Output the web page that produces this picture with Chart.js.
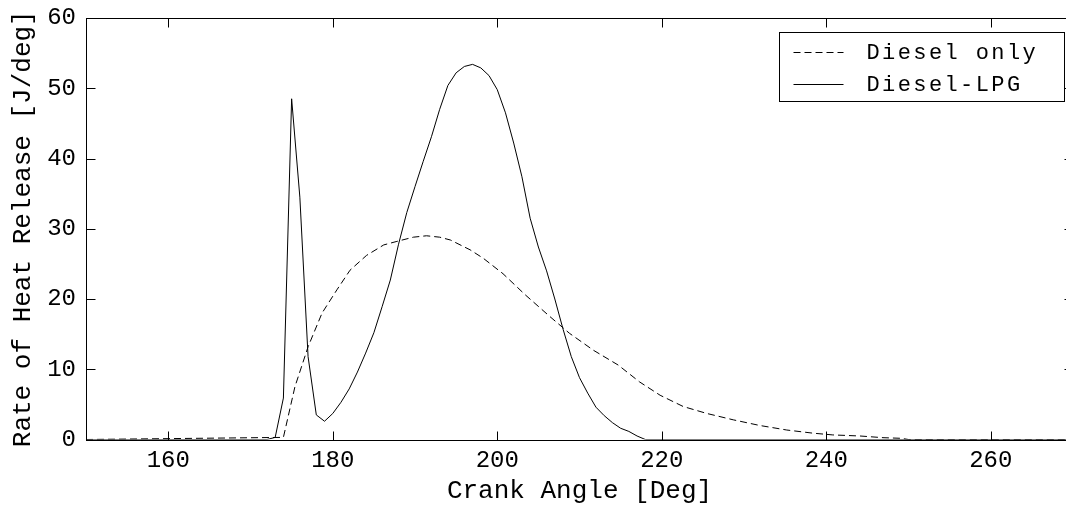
<html>
<head>
    <title>Rate of Heat Release</title>
    <meta charset="utf-8" />
    <script src="https://cdn.jsdelivr.net/npm/chart.js"></script>
    <style>
        body { margin: 0; overflow: hidden; background: #fff; }
        .chart-box { position: absolute; left: 0; top: 0; width: 1080px; height: 507px; }
    </style>
</head>
<body>
<div class="chart-box"><canvas id="chart"></canvas></div>

<script>
// crank angle [Deg] and rate of heat release [J/deg]
const lpgAngle = [150, 172, 173, 174, 175, 176, 177, 178, 179, 180, 181, 182, 183, 184, 185, 186, 187, 188, 189, 190,
                  191, 192, 193, 194, 195, 196, 197, 198, 199, 200, 201, 202, 203, 204, 205, 206, 207, 208, 209, 210,
                  211, 212, 213, 214, 215, 216, 217, 218, 270];
const lpgHeat = [0, 0, 0.3, 5.9, 48.5, 34.5, 11.8, 3.5, 2.6, 3.7, 5.3, 7.2, 9.6, 12.3, 15.2, 18.9, 22.7, 27.8, 32.3, 36.0,
                 39.6, 43.1, 47.0, 50.4, 52.2, 53.1, 53.4, 52.9, 51.8, 49.8, 46.5, 42.2, 37.4, 31.5, 27.4, 24.0, 20.0, 15.7, 11.8, 8.8,
                 6.6, 4.6, 3.4, 2.4, 1.6, 1.15, 0.5, 0, 0];

const dieselAngle = [150, 174, 175.4, 177, 178.7, 180.5, 182.1, 184.1, 186.2, 187.8,
                     189.8, 191.4, 193, 194.3, 196.7, 198.3, 200.7, 203.4, 206.4, 208.8,
                     211.7, 214.7, 217.3, 219.8, 222.6, 225.5, 228.7, 231.9, 235.2, 238.4,
                     240.8, 244.1, 246.9, 249.1, 250, 270];
const dieselHeat = [0, 0.3, 7.5, 13.2, 18.0, 21.3, 24.1, 26.2, 27.7, 28.2,
                    28.8, 29.0, 28.8, 28.4, 27.0, 25.8, 23.6, 20.6, 17.5, 15.1,
                    12.7, 10.6, 8.2, 6.3, 4.7, 3.7, 2.8, 2.0, 1.35, 0.9,
                    0.65, 0.5, 0.26, 0.17, 0, 0];

const xTicks = [160, 180, 200, 220, 240, 260];
const yTicks = [0, 10, 20, 30, 40, 50, 60];

Chart.defaults.font.family = '"Liberation Mono", "Courier New", monospace';
Chart.defaults.color = '#000';

// box round the plot, inward tick marks on all four sides, boxed legend top right
const frameTicks = {
    id: 'frameTicks',
    afterDatasetsDraw(chart) {
        const ctx = chart.ctx;
        const a = chart.chartArea;
        const x = chart.scales.x, y = chart.scales.y;
        const len = 9;
        ctx.save();
        ctx.strokeStyle = '#000';
        ctx.lineWidth = 1;
        ctx.setLineDash([]);
        const L = Math.round(a.left) + 0.5, R = Math.round(a.right) + 0.5;
        const T = Math.round(a.top) + 0.5, B = Math.round(a.bottom) + 0.5;
        ctx.strokeRect(L, T, R - L, B - T);
        ctx.beginPath();
        x.ticks.forEach(t => {
            const px = Math.round(x.getPixelForValue(t.value)) + 0.5;
            ctx.moveTo(px, B); ctx.lineTo(px, B - len);
            ctx.moveTo(px, T); ctx.lineTo(px, T + len);
        });
        y.ticks.forEach(t => {
            const py = Math.round(y.getPixelForValue(t.value)) + 0.5;
            ctx.moveTo(L, py); ctx.lineTo(L + len, py);
            ctx.moveTo(R, py); ctx.lineTo(R - len, py);
        });
        ctx.stroke();

        // legend
        const boxW = 285, boxH = 69;
        const bx = Math.round(a.right - 9 - boxW) + 0.5;
        const by = Math.round(a.top + 14) + 0.5;
        ctx.fillStyle = '#fff';
        ctx.fillRect(bx, by, boxW, boxH);
        ctx.strokeRect(bx, by, boxW, boxH);
        ctx.font = '22px "Liberation Mono", "Courier New", monospace';
        ctx.letterSpacing = '2.4px';
        ctx.textBaseline = 'middle';
        ctx.fillStyle = '#000';
        chart.data.datasets.forEach((ds, i) => {
            const ry = Math.round(by + 19.5 + i * 31.5) + 0.5;
            ctx.beginPath();
            ctx.setLineDash(ds.borderDash || []);
            ctx.moveTo(bx + 14, ry);
            ctx.lineTo(bx + 64, ry);
            ctx.stroke();
            ctx.setLineDash([]);
            ctx.fillText(ds.label, bx + 87, ry + 1);
        });
        ctx.restore();
    }
};

const ctx = document.getElementById('chart');

new Chart(ctx, {
    type: 'line',
    data: {
        datasets: [
            {
                label: 'Diesel only',
                data: dieselAngle.map((a, i) => ({x: a, y: dieselHeat[i]})),
                borderColor: '#000',
                borderWidth: 1,
                borderDash: [7, 4],
                pointRadius: 0,
                tension: 0,
                fill: false
            },
            {
                label: 'Diesel-LPG',
                data: lpgAngle.map((a, i) => ({x: a, y: lpgHeat[i]})),
                borderColor: '#000',
                borderWidth: 1,
                pointRadius: 0,
                tension: 0,
                fill: false
            }
        ]
    },
    options: {
        responsive: true,
        maintainAspectRatio: false,
        animation: false,
        layout: { padding: { top: 18, right: 7, left: 0, bottom: 0 } },
        plugins: {
            legend: { display: false },
            tooltip: { enabled: false }
        },
        scales: {
            x: {
                type: 'linear',
                min: 150,
                max: 270,
                grid: { display: false, drawTicks: false },
                border: { display: false },
                afterBuildTicks: s => { s.ticks = xTicks.map(v => ({value: v})); },
                afterFit: s => { s.height = 67.5; s.paddingLeft = 0; s.paddingRight = 0; },
                ticks: { font: { size: 24 }, color: '#000', padding: 7, maxRotation: 0, autoSkip: false },
                title: {
                    display: true,
                    text: 'Crank Angle [Deg]',
                    font: { size: 26 },
                    color: '#000',
                    padding: { top: 0, bottom: 0 }
                }
            },
            y: {
                min: 0,
                max: 60,
                grid: { display: false, drawTicks: false },
                border: { display: false },
                afterBuildTicks: s => { s.ticks = yTicks.map(v => ({value: v})); },
                afterFit: s => { s.width = 86; s.paddingTop = 0; s.paddingBottom = 0; },
                ticks: { font: { size: 24 }, color: '#000', padding: 10 },
                title: {
                    display: true,
                    text: 'Rate of Heat Release [J/deg]',
                    font: { size: 26 },
                    color: '#000',
                    padding: { top: 8, bottom: 0 }
                }
            }
        }
    },
    plugins: [frameTicks]
});
</script>
</body>
</html>
